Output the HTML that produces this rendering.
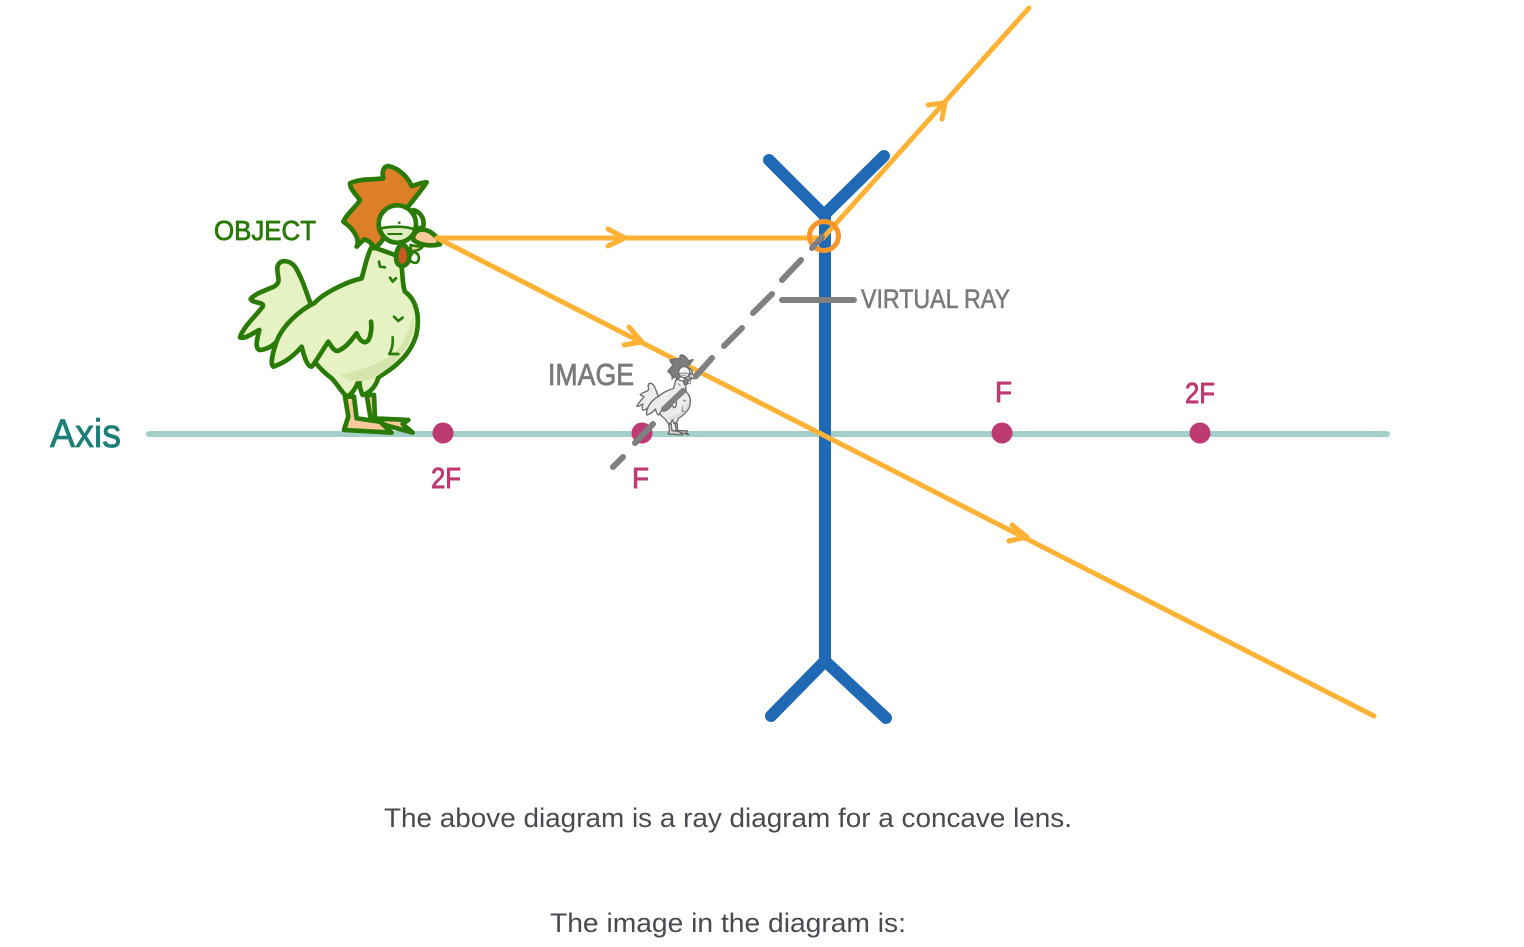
<!DOCTYPE html>
<html><head><meta charset="utf-8"><style>
html,body{margin:0;padding:0;background:#fff;width:1524px;height:947px;overflow:hidden}
svg{display:block}
.h{font-family:"Liberation Sans",sans-serif;stroke-linejoin:round;paint-order:stroke}
.b{font-family:"Liberation Sans",sans-serif;fill:#4a4a50;font-size:27px}
.ln{stroke:var(--l)}
.bd{fill:var(--b)}
.sh{fill:var(--sh);stroke:none}
.ft{fill:var(--f)}
.cm{fill:var(--c);stroke:var(--l)}
.wt{fill:var(--w);stroke:var(--l)}
.fc{fill:var(--fc)}
.dt{fill:var(--l);stroke:none}
.hd{fill:#fff}
.no{fill:none}
.c1{--l:#2a7a08;--b:#e6f2c3;--sh:#d5e5ad;--f:#f9c99b;--c:#dd7f26;--w:#c85a20;--fc:#dfeebf}
.c2{--l:#6e6e6e;--b:#ececec;--sh:#dcdcdc;--f:#d8d8d8;--c:#7d7d7d;--w:#888;--fc:#e4e4e4}
</style></head><body>
<svg width="1524" height="947" viewBox="0 0 1524 947" xmlns="http://www.w3.org/2000/svg">
<defs>
<g id="r" stroke-linejoin="round" stroke-linecap="round" stroke-width="14">
  <path class="ln bd" d="M335,470C320,430 305,380 285,350C265,325 232,330 232,355C232,385 245,395 222,410C200,420 165,430 152,447C160,462 195,455 188,470C170,495 130,530 120,562C135,570 165,545 178,540C170,570 165,595 178,600C195,600 215,590 225,580Z"/>
  <path class="ln ft" d="M435,740L445,800L432,840L575,848L540,815L470,805L462,740Z"/>
  <path class="ln ft" d="M500,735L512,805L625,810L608,822L638,848L555,825L525,805L522,735Z"/>
  <path class="ln bd" d="M345,458C370,430 440,395 485,385C495,350 500,320 515,290L600,320C610,360 605,400 615,425C650,450 660,500 650,550C635,610 590,650 535,682C530,705 510,730 488,735C480,720 478,700 478,688C470,710 455,735 440,740C420,720 410,700 395,685C375,670 355,650 340,630Z"/>
  <path class="sh" d="M640,500C650,550 620,620 535,676C500,700 450,700 420,675C480,660 560,640 600,590C620,560 630,530 640,500Z"/>
  <path class="ln bd" d="M345,458C300,480 240,530 225,590C215,620 212,645 220,650C250,640 280,620 305,590C310,610 320,650 335,650C345,640 355,620 385,575C395,590 405,610 420,600C440,590 455,570 470,550C480,575 500,590 510,560C515,540 515,525 513,515"/>
  <path class="ln no" stroke-width="8" d="M537,335L540,350L555,352M570,383L578,395L588,385M582,500L595,513L608,503M578,562C580,585 575,600 568,612L595,612"/>
  <path class="cm" d="M470,290C480,270 465,240 430,215C440,190 470,170 480,150C465,130 450,115 450,100C480,85 520,90 550,85C545,65 550,50 565,48C600,55 625,85 635,108C650,105 670,95 680,97C665,120 640,150 620,175L540,280L525,295C510,270 490,265 490,270Z"/>
  <path class="ln hd" d="M640,180C660,185 675,205 670,230L650,240Z"/>
  <path class="ln ft" d="M640,258C650,235 670,235 690,245C705,255 718,268 720,283C690,290 660,285 640,270Z"/>
  <path class="ln ft" stroke-width="8" d="M632,285C650,290 665,290 668,290C660,300 645,305 632,302Z"/>
  <path class="ln hd" stroke-width="8" d="M640,305C660,310 660,330 650,338C640,340 630,335 628,325Z"/>
  <path class="wt" d="M605,282C625,290 632,310 625,335C615,352 595,352 590,335C585,315 590,295 605,282Z"/>
  <circle class="ln hd" cx="592" cy="222" r="56"/>
  <path class="ln fc" stroke-width="8" d="M541,235C575,228 615,228 644,238C634,265 610,275 590,275C570,275 550,262 541,235Z"/>
  <path class="ln no" stroke-width="6" d="M565,252L605,252"/>
  <circle class="dt" cx="598" cy="218" r="4"/>
</g>
</defs>

<line x1="149" y1="434" x2="1387" y2="434" stroke="#a3cfc9" stroke-width="6" stroke-linecap="round"/>

<g fill="none" stroke="#2069b5" stroke-width="12" stroke-linecap="round" stroke-linejoin="miter">
  <path d="M825,215V660"/>
  <path d="M769,160L824,215L884,156"/>
  <path d="M771,716L825,661L886,718"/>
</g>

<g class="c1" transform="translate(200,150) scale(.3333)"><use href="#r"/></g>

<g fill="none" stroke="#fdb235" stroke-width="5" stroke-linecap="round" stroke-linejoin="round">
  <path d="M437,238H823L1029,8"/>
  <path d="M437,238L1374,716"/>
  <path d="M608,229L625,238L608,246"/>
  <path d="M629,327L642,342L624,345"/>
  <path d="M928,105L945,103L942,119"/>
  <path d="M1012,525L1027,537L1009,541"/>
</g>
<circle cx="824" cy="236" r="14.5" fill="none" stroke="#f7962a" stroke-width="5"/>

<g class="c2" transform="translate(625,350) scale(.1)"><use href="#r"/></g>

<g fill="#bd3a72">
  <circle cx="443" cy="433" r="10.5"/>
  <circle cx="642" cy="433" r="10.5"/>
  <circle cx="1002" cy="433" r="10.5"/>
  <circle cx="1200" cy="433" r="10.5"/>
</g>

<g stroke="#808080" stroke-width="6" stroke-linecap="round" fill="none">
  <path d="M613,467L623,457M635,443L653,424M664,409L683,391M696,376L712,358M724,346L742,328M753,313L772,294M782,280L801,260M812,248L822,237"/>
  <path d="M782,300H854"/>
</g>

<g class="h">
  <text x="214" y="240" font-size="28" textLength="102" lengthAdjust="spacingAndGlyphs" fill="#2a7a08" stroke="#2a7a08" stroke-width=".8">OBJECT</text>
  <text x="861" y="308" font-size="27" textLength="149" lengthAdjust="spacingAndGlyphs" fill="#7a7a7a" stroke="#7a7a7a" stroke-width=".6">VIRTUAL RAY</text>
  <text x="548" y="385" font-size="31" textLength="86" lengthAdjust="spacingAndGlyphs" fill="#7a7a7a" stroke="#7a7a7a" stroke-width=".8">IMAGE</text>
  <text x="50" y="447" font-size="40" textLength="71" lengthAdjust="spacingAndGlyphs" fill="#1c7f78" stroke="#1c7f78" stroke-width=".8">Axis</text>
  <g fill="#bd3a72" stroke="#bd3a72" stroke-width=".9" font-size="29">
    <text x="431" y="488" textLength="30" lengthAdjust="spacingAndGlyphs">2F</text>
    <text x="632" y="488" textLength="17" lengthAdjust="spacingAndGlyphs">F</text>
    <text x="995" y="402" textLength="17" lengthAdjust="spacingAndGlyphs">F</text>
    <text x="1185" y="403" textLength="30" lengthAdjust="spacingAndGlyphs">2F</text>
  </g>
</g>

<text class="b" x="384" y="827" textLength="688" lengthAdjust="spacingAndGlyphs">The above diagram is a ray diagram for a concave lens.</text>
<text class="b" x="550" y="932" textLength="356" lengthAdjust="spacingAndGlyphs">The image in the diagram is:</text>
</svg>
</body></html>
